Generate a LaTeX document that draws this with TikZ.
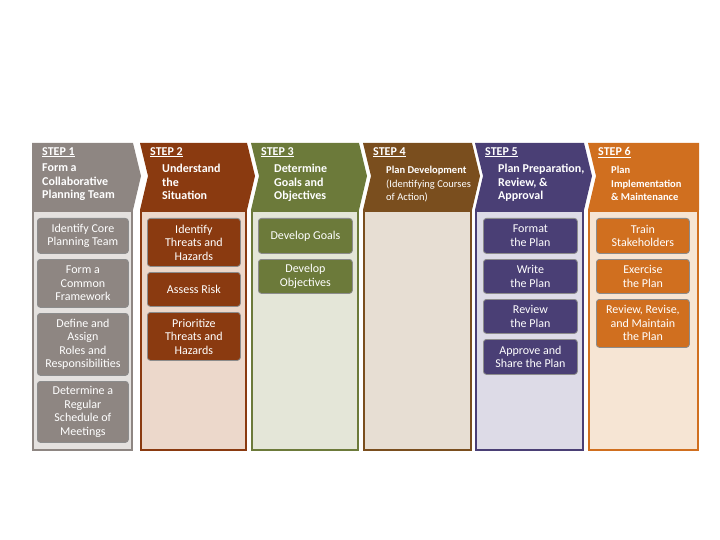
\documentclass[tikz,border=0pt]{standalone}
\usepackage{fontspec}
\setmainfont{Carlito}
\definecolor{cA}{HTML}{8E8682}\definecolor{lA}{HTML}{E4E1DF}
\definecolor{cB}{HTML}{8A3A10}\definecolor{lB}{HTML}{ECD8CB}
\definecolor{cC}{HTML}{6C7A3A}\definecolor{lC}{HTML}{E4E6D8}
\definecolor{cD}{HTML}{7A4E1E}\definecolor{lD}{HTML}{E7DED3}
\definecolor{cE}{HTML}{4A3F75}\definecolor{lE}{HTML}{DDDBE7}
\definecolor{cF}{HTML}{D06F1F}\definecolor{lF}{HTML}{F6E5D4}
\tikzset{
 box/.style={draw=black!45,line width=0.8pt,rounded corners=3pt,text=white,align=center,font=\fontsize{12}{13.5}\selectfont,inner sep=1pt,anchor=north west},
 hd/.style={text=white,align=left,anchor=north west,font=\bfseries\fontsize{12}{13.5}\selectfont,inner sep=0pt},
 body/.style={line width=2pt}
}
\begin{document}
\begin{tikzpicture}[x=1pt,y=-1pt]
\useasboundingbox (0,0) rectangle (720,540);
\foreach \L/\R/\c/\l/\n in {32/133/cA/lA/1,140/247/cB/lB/2,251/359/cC/lC/3,363/472/cD/lD/4,475/584/cE/lE/5,588/699/cF/lF/6}{
  \draw[body,draw=\c,fill=\l] (\L+1,211) rectangle (\R-1,450);
  \ifnum\n=1
    \fill[\c] (\L,143) -- (\R,143) -- (\R+8,176) -- (\R,210) -- (\L,210) -- cycle;
  \else\ifnum\n=6
    \fill[\c] (\L,143) -- (\R,143) -- (\R,210) -- (\L,210) -- (\L+8,176) -- cycle;
  \else
    \fill[\c] (\L,143) -- (\R,143) -- (\R+8,176) -- (\R,210) -- (\L,210) -- (\L+8,176) -- cycle;
  \fi\fi
  \node[hd] (s\n) at (\L+10,147) {\underline{STEP \n}};
}
\node[hd] (t1) at (42,164) {Form a\\Collaborative\\Planning Team};
\node[hd] (t2) at (162,164) {Understand\\the\\Situation};
\node[hd] (t3) at (274,164) {Determine\\Goals and\\Objectives};
\node[hd,font=\fontsize{10.5}{13.5}\selectfont] (t4) at (386,166) {\textbf{Plan Development}\\(Identifying Courses\\of Action)};
\node[hd] (t5) at (498,164) {Plan Preparation,\\Review, \&\\Approval};
\node[hd,font=\bfseries\fontsize{10.5}{13.5}\selectfont] (t6) at (611,166) {Plan\\Implementation\\\& Maintenance};
% step 1
\node[box,fill=cA,minimum width=91pt,minimum height=35pt] (a1) at (37,218) {Identify Core\\Planning Team};
\node[box,fill=cA,minimum width=91pt,minimum height=48pt] (a2) at (37,259) {Form a\\Common\\Framework};
\node[box,fill=cA,minimum width=91pt,minimum height=62pt] (a3) at (37,313) {Define and\\Assign\\Roles and\\Responsibilities};
\node[box,fill=cA,minimum width=91pt,minimum height=61pt] (a4) at (37,381) {Determine a\\Regular\\Schedule of\\Meetings};
% step 2
\node[box,fill=cB,minimum width=93pt,minimum height=48pt] (b1) at (147,218) {Identify\\Threats and\\Hazards};
\node[box,fill=cB,minimum width=93pt,minimum height=34pt] (b2) at (147,272) {Assess Risk};
\node[box,fill=cB,minimum width=93pt,minimum height=48pt] (b3) at (147,312) {Prioritize\\Threats and\\Hazards};
% step 3
\node[box,fill=cC,minimum width=94pt,minimum height=35pt] (c1) at (258,218) {Develop Goals};
\node[box,fill=cC,minimum width=94pt,minimum height=34pt] (c2) at (258,259) {Develop\\Objectives};
% step 5
\node[box,fill=cE,minimum width=94pt,minimum height=35pt] (e1) at (483,218) {Format\\the Plan};
\node[box,fill=cE,minimum width=94pt,minimum height=34pt] (e2) at (483,259) {Write\\the Plan};
\node[box,fill=cE,minimum width=94pt,minimum height=34pt] (e3) at (483,299) {Review\\the Plan};
\node[box,fill=cE,minimum width=94pt,minimum height=35pt] (e4) at (483,339) {Approve and\\Share the Plan};
% step 6
\node[box,fill=cF,minimum width=93pt,minimum height=35pt] (f1) at (596,218) {Train\\Stakeholders};
\node[box,fill=cF,minimum width=93pt,minimum height=34pt] (f2) at (596,259) {Exercise\\the Plan};
\node[box,fill=cF,minimum width=93pt,minimum height=48pt] (f3) at (596,299) {Review, Revise,\\and Maintain\\the Plan};
\end{tikzpicture}
\end{document}
